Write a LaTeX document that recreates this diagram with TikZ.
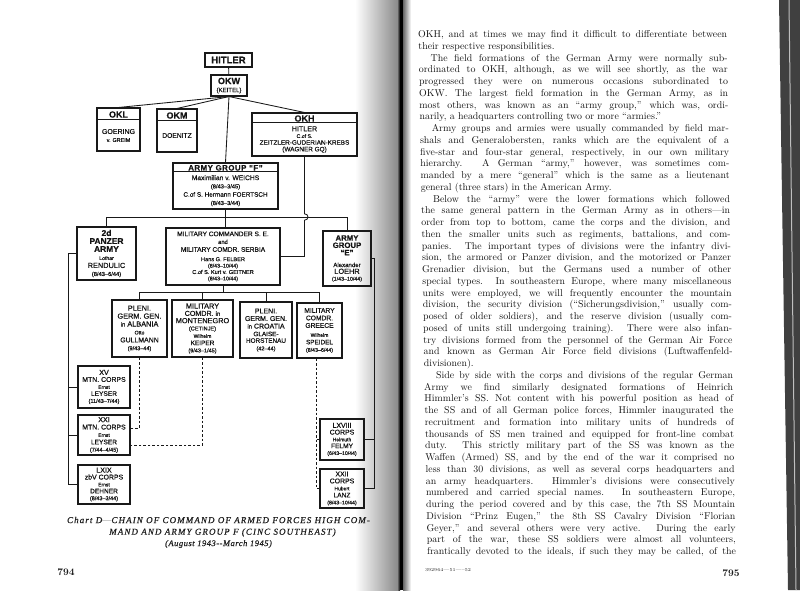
\documentclass[tikz,border=0pt]{standalone}
\usepackage{fontspec}
\newfontfamily\chartfont{Liberation Sans}[Scale=1.08, FakeBold=0.5]
\newfontfamily\capfont{Liberation Serif}[LetterSpace=12, FakeBold=0.5]
\usetikzlibrary{calc}
\newcommand\fz[2]{\fontsize{#1}{#2}\selectfont}
\newcount\lno \lno=-1
\newcommand\lineJ[1]{\global\advance\lno by 1\relax\moveright\dimexpr 0.2pt*\lno\relax\hbox to\linewidth{#1}}
\newcommand\lineL[1]{\global\advance\lno by 1\relax\moveright\dimexpr 0.2pt*\lno\relax\hbox to\linewidth{#1\hfil}}
\newcommand\ind{\hspace*{12pt}}
\tikzset{
  box/.style={draw=black!90, line width=1.05pt, inner sep=0.5pt, align=center, font=\chartfont, text=black!92},
  hdr/.style={font=\chartfont\bfseries\fz{8.3}{9}, inner sep=0pt, text=black!92},
  txt/.style={align=center, inner sep=0pt, text=black!92},
  conn/.style={draw=black!90, line width=0.85pt},
  dconn/.style={draw=black!90, line width=0.8pt, dash pattern=on 2.6pt off 1.9pt},
  capt/.style={inner sep=0pt, text=black!88},
}
\begin{document}
\begin{tikzpicture}[x=1pt,y=-1pt]
\useasboundingbox (0,0) rectangle (800,590);
% paper, gutter and edge
\fill[white] (0,0) rectangle (800,590);
\shade[left color=white, right color=black!45] (355,0) rectangle (397,590);
\shade[left color=black!45, right color=black] (397,0) rectangle (400,590);
\fill[black] (400,0) rectangle (403,590);
\shade[left color=black!60, right color=white] (403,0) rectangle (411,590);
\fill[black!75] (779,0) -- (800,0) -- (800,590) -- (788,590) -- cycle;
\draw[black!25, line width=1pt] (789,0) -- (796,590);

% ---------------- chart ----------------
\node[box, minimum width=47pt, minimum height=14pt, font=\chartfont\bfseries\fz{8.8}{9}] (hitler) at (228.5,60) {HITLER};
\node[box, minimum width=36pt, minimum height=21pt, font=\chartfont\fz{6}{8}] (okw) at (229,85.5) {\bfseries\fz{8.4}{9}OKW\\ \fz{5.6}{6}(KEITEL)};

\node[box, minimum width=43pt, minimum height=43pt] (okl) at (118.5,129.5) {};
\draw[conn] ($(okl.north west)+(0,11.5)$) -- ($(okl.north east)+(0,11.5)$);
\node[hdr] (oklh) at (118.5,114.5) {OKL};
\node[txt, font=\chartfont\fz{6}{8}] (oklb) at (118.5,135.5) {\fz{6.5}{7}GOERING\\ \fz{5}{6}v. GREIM};

\node[box, minimum width=40pt, minimum height=43pt] (okm) at (177,130.5) {};
\draw[conn] ($(okm.north west)+(0,12)$) -- ($(okm.north east)+(0,12)$);
\node[hdr] (okmh) at (177,115.5) {OKM};
\node[txt, font=\chartfont\fz{6.2}{7}] (okmb) at (177,135.5) {DOENITZ};

\node[box, minimum width=105pt, minimum height=43pt] (okh) at (304.5,134.5) {};
\draw[conn] ($(okh.north west)+(0,10)$) -- ($(okh.north east)+(0,10)$);
\node[hdr] (okhh) at (304.5,118.5) {OKH};
\node[txt, font=\chartfont\fz{6}{6.7}] (okhb) at (304.5,139.5) {\fz{6.6}{7}HITLER\\ \fz{4.8}{5}C.of S.\\ \fz{5.9}{6}ZEITZLER-GUDERIAN-KREBS\\ \fz{5.9}{6}(WAGNER GQ)};

\node[box, minimum width=105pt, minimum height=46pt] (agf) at (225.5,186) {};
\draw[conn] ($(agf.north west)+(0,9)$) -- ($(agf.north east)+(0,9)$);
\node[hdr, font=\chartfont\bfseries\fz{7.3}{8}\addfontfeature{LetterSpace=6}] (agfh) at (225.5,167.8) {ARMY GROUP “F”};
\node[txt, font=\chartfont\fz{6}{8.3}] (agfb) at (225.5,190.7) {\fz{6.2}{7}Maximilian v. WEICHS\\ \fz{5.3}{6}(8/43–3/45)\\ \fz{5.9}{7}C.of S. Hermann FOERTSCH\\ \fz{5.3}{6}(8/43–3/44)};

\node[box, minimum width=59pt, minimum height=53pt, font=\chartfont\fz{6}{8}] (panzer) at (106.5,253.5) {\bfseries\fz{7.8}{8}2d\\ \bfseries\fz{7.8}{8}PANZER\\ \bfseries\fz{7.8}{8}ARMY\\ \fz{4.8}{5}Lothar\\ \fz{6.8}{7}RENDULIC\\ \fz{5.3}{6}(8/43–6/44)};

\node[box, minimum width=114pt, minimum height=57pt, font=\chartfont\fz{6}{6.4}] (mil) at (223,256.5) {\fz{6.1}{7}MILITARY COMMANDER S. E.\\[1.4pt] \fz{5.4}{6}and\\[1.4pt] \fz{6.1}{7}MILITARY COMDR. SERBIA\\[3pt] \fz{5.2}{6}Hans G. FELBER\\ \fz{4.9}{6}(8/43–10/44)\\ \fz{5.2}{6}C.of S. Kurt v. GEITNER\\ \fz{4.9}{6}(8/43–10/44)};

\node[box, minimum width=48pt, minimum height=55pt, font=\chartfont\fz{6}{7.3}] (age) at (347,258.5) {\bfseries\fz{7.2}{7}ARMY\\ \bfseries\fz{7.2}{7}GROUP\\ \bfseries\fz{7.2}{7}“E”\\[4.5pt] \fz{5.6}{6}Alexander\\[-0.5pt] \fz{6.8}{7}LOEHR\\[-0.5pt] \fz{4.9}{6}(1/43–10/44)};

\node[box, minimum width=55pt, minimum height=57pt, font=\chartfont\fz{6}{7.9}] (alb) at (139.5,328.5) {\fz{6.8}{7}PLENI.\\ \fz{6.8}{7}GERM. GEN.\\ \fz{6.8}{7}{\fz{5.6}{6}in} ALBANIA\\ \fz{4.8}{5}Otto\\ \fz{6.4}{7}GULLMANN\\ \fz{5.1}{6}(9/43–44)};

\node[box, minimum width=61pt, minimum height=57pt, font=\chartfont\fz{6}{7.3}] (mon) at (202.5,328.5) {\fz{6.8}{7}MILITARY\\ \fz{6.6}{7}COMDR. {\fz{5.6}{6}in}\\ \fz{6.8}{7}MONTENEGRO\\ \fz{5.2}{6}(CETINJE)\\ \fz{4.6}{5}Wilhelm\\ \fz{6}{6}KEIPER\\ \fz{5.1}{6}(9/43–1/45)};

\node[box, minimum width=52pt, minimum height=56pt, font=\chartfont\fz{6}{7.6}] (cro) at (266,330) {\fz{6.5}{7}PLENI.\\ \fz{6.5}{7}GERM. GEN.\\ \fz{6.5}{7}{\fz{5.5}{6}in} CROATIA\\ \fz{5.9}{6}GLAISE-\\[-1pt] \fz{5.9}{6}HORSTENAU\\ \fz{5.1}{6}(42–44)};

\node[box, minimum width=45pt, minimum height=55pt, font=\chartfont\fz{6}{7.5}] (gre) at (319.5,330.5) {\fz{6.2}{7}MILITARY\\ \fz{6.2}{7}COMDR.\\ \fz{6.2}{7}GREECE\\[1.5pt] \fz{4.6}{5}Wilhelm\\ \fz{5.9}{6}SPEIDEL\\ \fz{4.9}{6}(8/43–6/44)};

\node[box, minimum width=52pt, minimum height=42pt, font=\chartfont\fz{6}{7}] (xv) at (104,387) {\fz{6.6}{7}XV\\ \fz{6.4}{7}MTN. CORPS\\ \fz{4.6}{5}Ernst\\ \fz{6.1}{6}LEYSER\\ \fz{5.1}{6}(11/43–7/44)};
\node[box, minimum width=52pt, minimum height=40pt, font=\chartfont\fz{6}{7.4}] (xxi) at (104,435) {\fz{6.6}{7}XXI\\ \fz{6.4}{7}MTN. CORPS\\ \fz{4.6}{5}Ernst\\ \fz{6.1}{6}LEYSER\\ \fz{5.1}{6}(7/44–4/45)};
\node[box, minimum width=52pt, minimum height=39pt, font=\chartfont\fz{6}{6.9}] (lxix) at (104,484.5) {\fz{6.6}{7}LXIX\\ \fz{6.4}{7}zbV CORPS\\ \fz{4.6}{5}Ernst\\ \fz{6.1}{6}DEHNER\\ \fz{5.1}{6}(8/43–3/44)};
\node[box, minimum width=44pt, minimum height=41pt, font=\chartfont\fz{6}{6.8}] (lxviii) at (342,439.5) {\fz{6.4}{7}LXVIII\\ \fz{6.4}{7}CORPS\\ \fz{4.6}{5}Helmuth\\ \fz{6.1}{6}FELMY\\ \fz{4.8}{6}(6/43–10/44)};
\node[box, minimum width=44pt, minimum height=39pt, font=\chartfont\fz{6}{7}] (xxii) at (342,488.5) {\fz{6.4}{7}XXII\\ \fz{6.4}{7}CORPS\\ \fz{4.6}{5}Hubert\\ \fz{6.1}{6}LANZ\\ \fz{4.8}{6}(8/43–10/44)};

% connectors
\coordinate (bar) at (0,217);
\coordinate (bar2) at (0,292);
\coordinate (lt) at (68,0);
\coordinate (rt) at (374,0);
\draw[conn] (hitler) -- (okw);
\draw[conn] (okw.south) -- (okl.north);
\draw[conn] (okw.south) -- (okm.north);
\draw[conn] (okw.south) -- (okh.north);
\draw[conn] (okw.south) -- (agf.north);
\draw[conn] (agf.south) -- (agf.south |- mil.north);
\draw[conn] (panzer.north) -- (panzer.north |- bar) -- (age.north |- bar) -- (age.north);
\draw[conn] (okh.south) -- ($(okh.south |- bar)+(0,-3.2)$) .. controls +(4.6,0) and +(4.6,0) .. ($(okh.south |- bar)+(0,3.2)$) |- (mil.east);
\draw[conn] (mil.south) -- (mil.south |- bar2);
\draw[conn] (alb.north) -- (alb.north |- bar2) -- (gre.north |- bar2) -- (gre.north);
\draw[conn] (mon.north) -- (mon.north |- bar2);
\draw[conn] (cro.north) -- (cro.north |- bar2);
\draw[conn] (panzer.west) -- (panzer.west -| lt) -- (lt |- lxix.west) -- (lxix.west);
\draw[conn] (lt |- xv.west) -- (xv.west);
\draw[conn] (lt |- xxi.west) -- (xxi.west);
\draw[conn] (age.east) -- (age.east -| rt) -- (rt |- xxii.east) -- (xxii.east);
\draw[conn] (rt |- lxviii.east) -- (lxviii.east);
\draw[dconn] (alb.south) |- ($(xxi.east)+(0,-7)$);
\draw[dconn] (mon.south) |- ($(xxi.east)+(0,10)$);
\coordinate (gd) at ($(gre.south)+(-3,0)$);
\draw[dconn] (gd) |- (xxii.west);
\draw[dconn] (gd |- lxviii.west) -- (lxviii.west);

% caption and folios
\node[capt, font=\fz{9}{10}] (cap1) at (218.5,520) {{\capfont\itshape Chart D}---{\capfont\itshape CHAIN OF COMMAND OF ARMED FORCES HIGH COM-}};
\node[capt, font=\fz{9}{10}] (cap2) at (222.5,532.5) {\capfont\itshape MAND AND ARMY GROUP F (CINC SOUTHEAST)};
\node[capt, font=\fz{8.5}{10}] (cap3) at (218.5,544) {\capfont\itshape\addfontfeature{LetterSpace=6}(August 1943--March 1945)};
\node[capt, font=\bfseries\fz{10}{11}] (folio1) at (66,572) {794};
\node[capt, font=\bfseries\fz{10}{11}] (folio2) at (731,573) {795};
\node[capt, font=\fz{4.5}{5}] (print) at (448,570) {392964---51-----52};

% right page text
\node[anchor=north west, inner sep=0pt, text=black!92, font=\fz{9.9}{11.75}] (page) at (418,30.5) {\begin{minipage}{309pt}\parindent=0pt\parskip=0pt
\lineJ{OKH, and at times we may find it difficult to differentiate between}
\lineL{their respective responsibilities.}
\lineJ{\ind The field formations of the German Army were normally sub-}
\lineJ{ordinated to OKH, although, as we will see shortly, as the war}
\lineJ{progressed they were on numerous occasions subordinated to}
\lineJ{OKW.  The largest field formation in the German Army, as in}
\lineJ{most others, was known as an ``army group,'' which was, ordi-}
\lineL{narily, a headquarters controlling two or more ``armies.''}
\lineJ{\ind Army groups and armies were usually commanded by field mar-}
\lineJ{shals and Generalobersten, ranks which are the equivalent of a}
\lineJ{five-star and four-star general, respectively, in our own military}
\lineJ{hierarchy.  A German ``army,'' however, was sometimes com-}
\lineJ{manded by a mere ``general'' which is the same as a lieutenant}
\lineL{general (three stars) in the American Army.}
\lineJ{\ind Below the ``army'' were the lower formations which followed}
\lineJ{the same general pattern in the German Army as in others---in}
\lineJ{order from top to bottom, came the corps and the division, and}
\lineJ{then the smaller units such as regiments, battalions, and com-}
\lineJ{panies.  The important types of divisions were the infantry divi-}
\lineJ{sion, the armored or Panzer division, and the motorized or Panzer}
\lineJ{Grenadier division, but the Germans used a number of other}
\lineJ{special types.  In southeastern Europe, where many miscellaneous}
\lineJ{units were employed, we will frequently encounter the mountain}
\lineJ{division, the security division (``Sicherungsdivision,'' usually com-}
\lineJ{posed of older soldiers), and the reserve division (usually com-}
\lineJ{posed of units still undergoing training).  There were also infan-}
\lineJ{try divisions formed from the personnel of the German Air Force}
\lineJ{and known as German Air Force field divisions (Luftwaffenfeld-}
\lineL{divisionen).}
\lineJ{\ind Side by side with the corps and divisions of the regular German}
\lineJ{Army we find similarly designated formations of Heinrich}
\lineJ{Himmler's SS.  Not content with his powerful position as head of}
\lineJ{the SS and of all German police forces, Himmler inaugurated the}
\lineJ{recruitment and formation into military units of hundreds of}
\lineJ{thousands of SS men trained and equipped for front-line combat}
\lineJ{duty.  This strictly military part of the SS was known as the}
\lineJ{Waffen (Armed) SS, and by the end of the war it comprised no}
\lineJ{less than 30 divisions, as well as several corps headquarters and}
\lineJ{an army headquarters.  Himmler's divisions were consecutively}
\lineJ{numbered and carried special names.  In southeastern Europe,}
\lineJ{during the period covered and by this case, the 7th SS Mountain}
\lineJ{Division ``Prinz Eugen,'' the 8th SS Cavalry Division ``Florian}
\lineJ{Geyer,'' and several others were very active.  During the early}
\lineJ{part of the war, these SS soldiers were almost all volunteers,}
\lineJ{frantically devoted to the ideals, if such they may be called, of the}
\end{minipage}};
\end{tikzpicture}
\end{document}
